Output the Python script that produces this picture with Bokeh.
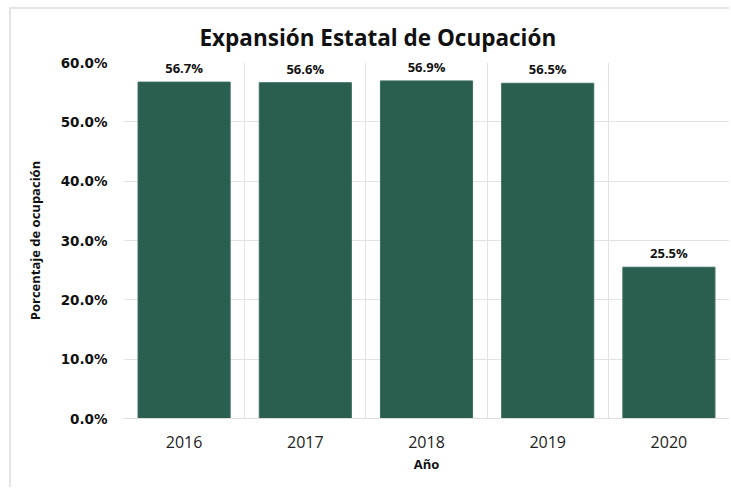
from bokeh.plotting import figure
from bokeh.models import ColumnDataSource, FixedTicker, NumeralTickFormatter, LabelSet
from bokeh.core.properties import value
from bokeh.embed import file_html
from bokeh.resources import INLINE

years = ["2016", "2017", "2018", "2019", "2020"]
values = [0.567, 0.566, 0.569, 0.565, 0.255]
labels = ["56.7%", "56.6%", "56.9%", "56.5%", "25.5%"]

xpos = [i + 0.5 for i in range(len(years))]
src = ColumnDataSource(dict(x=xpos, top=values, lab=labels))

FONT = "Open Sans"
TICKFONT = "DejaVu Sans"
p = figure(width=720, height=480, output_backend="svg", toolbar_location=None,
           x_range=(0, len(years)), y_range=(0, 0.6),
           min_border_left=112, min_border_right=2, min_border_top=0, min_border_bottom=71)

p.title.text = "Expansión Estatal de Ocupación"
p.title.text_font = FONT
p.title.text_font_size = "22.5px"
p.title.text_font_style = "bold"
p.title.text_color = "#111111"
p.title.align = "left"
p.title.offset = 76
p.title.standoff = 20

p.vbar(x="x", top="top", width=0.76, bottom=0, source=src,
       fill_color="#2A5E4F", line_color="#3d6e60", line_width=1)

p.add_layout(LabelSet(x="x", y="top", text="lab", source=src, text_align="center",
                      text_baseline="bottom", y_offset=5, text_font=value(FONT),
                      text_font_size="13px", text_font_style="bold", text_color="#111111"))

p.outline_line_color = None
p.background_fill_color = "white"

p.xaxis.ticker = FixedTicker(ticks=xpos)
p.xaxis.major_label_overrides = {x: y for x, y in zip(xpos, years)}
p.xaxis.major_label_text_font = FONT
p.xaxis.major_label_text_font_size = "16px"
p.xaxis.major_label_text_color = "#222222"
p.xaxis.major_label_standoff = 11
p.xaxis.major_tick_line_color = None
p.xaxis.minor_tick_line_color = None
p.xaxis.axis_line_color = "#dddddd"
p.xaxis.axis_label = "Año"
p.xaxis.axis_label_text_font = FONT
p.xaxis.axis_label_text_font_size = "13px"
p.xaxis.axis_label_text_font_style = "bold"
p.xaxis.axis_label_text_color = "#111111"
p.xaxis.axis_label_standoff = 4

p.yaxis.ticker = FixedTicker(ticks=[0, 0.1, 0.2, 0.3, 0.4, 0.5, 0.6])
p.yaxis.formatter = NumeralTickFormatter(format="0.0%")
p.yaxis.major_label_text_font = TICKFONT
p.yaxis.major_label_text_font_size = "13.5px"
p.yaxis.major_label_text_font_style = "bold"
p.yaxis.major_label_text_color = "#111111"
p.yaxis.major_label_standoff = 10
p.yaxis.major_tick_line_color = None
p.yaxis.minor_tick_line_color = None
p.yaxis.axis_line_color = None
p.yaxis.axis_label = "Porcentaje de ocupación"
p.yaxis.axis_label_text_font = FONT
p.yaxis.axis_label_text_font_size = "13px"
p.yaxis.axis_label_text_font_style = "bold"
p.yaxis.axis_label_text_color = "#111111"
p.yaxis.axis_label_standoff = 14

p.xgrid.ticker = FixedTicker(ticks=list(range(len(years) + 1)))
p.xgrid.grid_line_color = "#e3e3e3"
p.ygrid.grid_line_color = "#e3e3e3"

p.styles = {"margin-left": "9px", "margin-top": "7px",
            "border-left": "2px solid #e4e4e4", "border-top": "2px solid #e4e4e4"}

open("out.html", "w").write(file_html(p, INLINE))
